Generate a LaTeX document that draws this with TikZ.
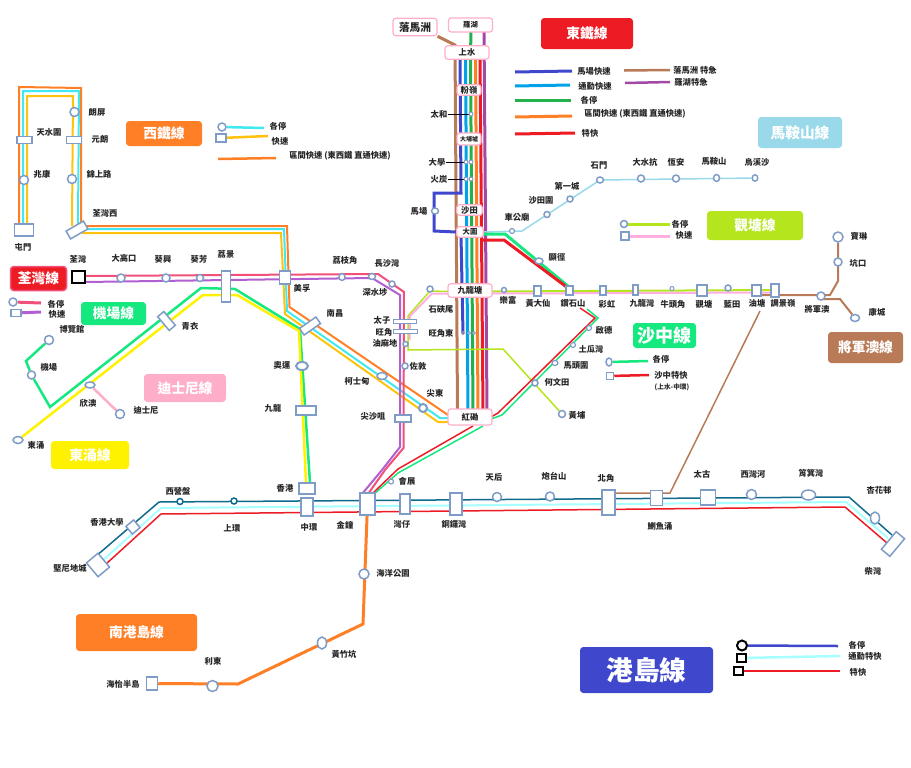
\documentclass[tikz,border=0pt]{standalone}
\usepackage{fontspec}
\setmainfont{Noto Sans CJK TC}
\usetikzlibrary{shapes.geometric}
\pgfdeclarelayer{bg}
\pgfsetlayers{bg,main}
\definecolor{cbrown}{HTML}{B97A57}
\definecolor{cblue}{HTML}{3F48CC}
\definecolor{csky}{HTML}{00A2E8}
\definecolor{cgreen}{HTML}{22B14C}
\definecolor{corange}{HTML}{FF7F27}
\definecolor{cred}{HTML}{ED1C24}
\definecolor{cpurple}{HTML}{A349A4}
\definecolor{cteal}{HTML}{0F6A8C}
\definecolor{cpale}{HTML}{A8FFFF}
\definecolor{cwcyan}{HTML}{40E8F0}
\definecolor{cwyel}{HTML}{FFC20E}
\definecolor{cpink}{HTML}{F0507A}
\definecolor{cvio}{HTML}{B060D0}
\definecolor{clime}{HTML}{B5E61D}
\definecolor{ckpink}{HTML}{FFAEE0}
\definecolor{csg}{HTML}{14E87F}
\definecolor{cmos}{HTML}{99D9EA}
\definecolor{cstn}{HTML}{7F9CC7}
\definecolor{cdis}{HTML}{FFAEC9}
\tikzset{
  px/.style={line width=#1*0.75pt},
  rt/.style={line join=miter,px=#1},
  stbase/.style={draw=cstn,fill=white,inner sep=0pt,px=1.5},
  lbl/.style={inner sep=0pt,font=\fontsize{6.2}{7}\selectfont\bfseries,text=black!85},
  ebox/.style={draw=cdis,fill=white,rounded corners=2pt,inner sep=0pt,px=1.2,font=\fontsize{6.2}{7}\selectfont\bfseries,text=black!85},
  ttl/.style={rounded corners=2.5pt,inner sep=0pt,text=white,font=\bfseries},
}
\newcommand\Stc[5][]{\node[stbase,ellipse,minimum width=#5*0.75pt,minimum height=#5*0.75pt,#1] (#2) at (#3,#4) {};}
\newcommand\Ste[6][]{\node[stbase,ellipse,minimum width=#5*0.75pt,minimum height=#6*0.75pt,#1] (#2) at (#3,#4) {};}
\newcommand\Str[6][]{\node[stbase,rectangle,minimum width=#5*0.75pt,minimum height=#6*0.75pt,#1] (#2) at (#3,#4) {};}
\newcommand\Lbl[4]{\node[lbl] (l#1) at (#2,#3) {#4};}
\newcommand\Ttl[8]{\node[ttl,fill=#6,minimum width=(#4-#2)*0.75pt,minimum height=(#5-#3)*0.75pt] (#1) at ({(#2+#4)/2},{(#3+#5)/2}) {\fontsize{#7}{#7}\selectfont #8};}
\begin{document}
\begin{tikzpicture}[x=0.75pt,y=-0.75pt]
\useasboundingbox (0,0) rectangle (911,768);
% ---------- title boxes
\Ttl{tE}{541}{18}{633}{49}{cred}{10.3}{東鐵線}
\Ttl{tW}{126}{121}{202}{146}{corange}{10.3}{西鐵線}
\Ttl{tM}{758}{117}{842}{148}{cmos}{11}{馬鞍山線}
\Ttl{tK}{707}{211}{803}{240}{clime}{10.3}{觀塘線}
\node[ttl,fill=cred,draw=cpink,px=1.5,minimum width=42pt,minimum height=18pt] (tT) at (38.5,278.5) {\fontsize{10.3}{10.3}\selectfont 荃灣線};
\Ttl{tA}{81}{302}{146}{325}{csg}{10.3}{機場線}
\Ttl{tD}{144}{374}{226}{402}{cdis}{10.3}{迪士尼線}
\Ttl{tY}{51}{441}{129}{469}{yellow}{10.3}{東涌線}
\Ttl{tS}{633}{323}{696}{348}{csg}{13.5}{沙中線}
\Ttl{tJ}{828}{332}{903}{363}{cbrown}{10.3}{將軍澳線}
\Ttl{tP}{76}{614}{197}{651}{corange}{10.3}{南港島線}
\Ttl{tI}{580}{647}{713}{693}{cblue}{20}{港島線}
% ---------- East Rail stations
\node[ebox,minimum width=33pt,minimum height=10.5pt] (LW) at (470.5,25) {\fontsize{5.5}{6}\selectfont 羅湖};
\node[ebox,minimum width=33pt,minimum height=13pt,font=\fontsize{8}{9}\selectfont\bfseries] (LMC) at (415,27) {落馬洲};
\node[ebox,minimum width=33pt,minimum height=10pt] (SS) at (467,52.5) {上水};
\node[ebox,minimum width=18pt,minimum height=8pt] (FL) at (469,90) {粉嶺};
\node[ebox,minimum width=18pt,minimum height=9pt,font=\fontsize{4.5}{5}\selectfont\bfseries] (TP) at (469,139) {大埔墟};
\node[ebox,minimum width=19pt,minimum height=8pt] (ST) at (469.5,210) {沙田};
\node[ebox,minimum width=20pt,minimum height=8pt,font=\fontsize{5.5}{6}\selectfont\bfseries] (TW) at (470,232) {大圍};
\node[ebox,minimum width=33pt,minimum height=10pt] (KT) at (470,290.5) {九龍塘};
\node[ebox,minimum width=33pt,minimum height=12pt] (HH) at (470,417) {紅磡};
\Stc[px=1]{TWO}{471}{114}{4}
\Stc[px=1]{UNIa}{466}{162}{4}
\Stc[px=1]{UNIb}{471}{162}{4}
\Stc[px=1]{FOa}{466}{179}{4}
\Stc[px=1]{FOb}{471}{179}{4}
\Ste{RC}{435}{211}{7}{6}
\Stc[px=1,fill=cred]{MKEa}{463}{333}{3}
\Stc[px=1]{MKEb}{469}{333}{3}
\Stc[px=1]{MKEc}{474}{333}{3}
\Lbl{TWO}{439}{114}{太和}
\Lbl{UNI}{437}{162}{大學}
\Lbl{FO}{439}{179}{火炭}
\Lbl{RC}{419}{211}{馬場}
% ---------- West Rail stations
\Str{TM}{24}{230}{19}{12}
\Str{TSW}{24.5}{140}{15}{7}
\Str{YL}{74}{140}{15}{7}
\Stc{LP}{74.5}{112}{9}
\Stc{SK}{24}{180}{9}
\Stc{KSR}{72}{179}{9}
\Str[rotate=30]{TWW}{77}{230}{20}{9}
\Str[rotate=35]{NC}{310}{326}{20}{8}
\Ste{AUS}{382}{376}{10}{7}
\Stc[px=2]{ETS}{423}{408}{8}
\Lbl{LP}{97}{112}{朗屏}
\Lbl{TSW}{49}{132}{天水圍}
\Lbl{YL}{100}{139}{元朗}
\Lbl{SK}{42}{174}{兆康}
\Lbl{KSR}{99}{174}{錦上路}
\Lbl{TWW}{105}{213}{荃灣西}
\Lbl{TM}{23}{247}{屯門}
\Lbl{NC}{335}{313}{南昌}
\Lbl{AUS}{357}{381}{柯士甸}
\Lbl{ETS}{435}{393}{尖東}
% ---------- Tsuen Wan stations
\Str[draw=black,px=1.5]{TSWN}{78.5}{277}{13}{12}
\Stc{TKK}{121}{278}{8}
\Stc{KH}{166}{278}{8}
\Stc{KF}{200}{278}{7}
\Str{LCK}{226}{286.5}{9}{31}
\Str{MF}{285}{277.5}{11}{13}
\Ste{LCH}{342}{277}{6}{7}
\Ste{CSW}{372}{276.5}{7}{6}
\Stc{SSP}{392}{284}{6}
\Str[px=1]{PE}{404.5}{321}{23}{4}
\Str[px=1]{MK}{405}{331.5}{24}{4}
\Stc{YMT}{405.5}{344}{5}
\Stc{JOR}{405}{366}{6}
\Str{TST}{403}{418.5}{16}{7}
\Lbl{TSWN}{78}{259}{荃灣}
\Lbl{TKK}{124}{258}{大高口}
\Lbl{KH}{163}{259}{葵興}
\Lbl{KF}{199}{259}{葵芳}
\Lbl{LCK}{226}{254}{荔景}
\Lbl{MF}{302}{288}{美孚}
\Lbl{LCH}{345}{260}{荔枝角}
\Lbl{CSW}{387}{263}{長沙灣}
\Lbl{SSP}{375}{292}{深水埗}
\Lbl{PE}{382}{320}{太子}
\Lbl{MK}{384}{332}{旺角}
\Lbl{YMT}{385}{343}{油麻地}
\Lbl{JOR}{418}{366}{佐敦}
\Lbl{TST}{373}{416}{尖沙咀}
\Lbl{SKM}{441}{309}{石硤尾}
\Lbl{MKE}{441}{333}{旺角東}
% ---------- Airport / Tung Chung / Disney
\Stc{AWE}{49}{340}{9}
\Stc{AP}{31.5}{375}{8}
\Str[rotate=40]{TY}{166.5}{321}{8}{18}
\Ste{SUN}{90}{385}{10}{6}
\Stc{DIS}{120}{414}{9}
\Ste{TC}{18}{440}{10}{7}
\Ste[px=2]{OLY}{302}{366}{12}{8}
\Str[px=2]{KOW}{306}{410}{20}{9}
\Str{HKS}{307}{488.5}{16}{11}
\Lbl{AWE}{72}{329}{博覽館}
\Lbl{AP}{49}{367}{機場}
\Lbl{TY}{190}{326}{青衣}
\Lbl{SUN}{88}{403}{欣澳}
\Lbl{DIS}{146}{410}{迪士尼}
\Lbl{TC}{36}{445}{東涌}
\Lbl{OLY}{282}{365}{奧運}
\Lbl{KOW}{273}{408}{九龍}
\Lbl{HKS}{285}{488}{香港}
% ---------- Kwun Tong
\Stc{SKMs}{430}{289}{6}
\Stc{WHA}{562}{414}{7}
\Stc{HOM}{535}{383}{6}
\Stc{LF}{504}{290}{5}
\Str{WTS}{537.5}{291}{7}{10}
\Str{DH}{569.5}{290.5}{7}{9}
\Str{CH}{603}{290.5}{6}{9}
\Str{KB}{635.5}{290}{5}{10}
\Stc[px=1]{NTK}{672}{288.5}{4}
\Str{KWT}{702}{290.5}{10}{11}
\Stc{LAT}{728}{288}{6}
\Str{YT}{756.5}{290.5}{9}{11}
\Str{TIK}{775}{290.5}{8}{13}
\Lbl{LF}{508}{300}{樂富}
\Lbl{WTS}{538}{303}{黃大仙}
\Lbl{DH}{573}{303}{鑽石山}
\Lbl{CH}{607}{304}{彩虹}
\Lbl{KB}{642}{303}{九龍灣}
\Lbl{NTK}{673}{304}{牛頭角}
\Lbl{KWT}{704}{304}{觀塘}
\Lbl{LAT}{732}{304}{藍田}
\Lbl{YT}{757}{303}{油塘}
\Lbl{TIK}{783}{303}{調景嶺}
\Lbl{WHA}{577}{415}{黃埔}
\Lbl{HOM}{557}{382}{何文田}
% ---------- Tseung Kwan O
\Stc{TKO}{821}{296}{8}
\Stc{POA}{838}{237}{10}
\Stc{HAH}{838}{262}{8}
\Ste{LHP}{855}{318}{9}{7}
\Lbl{TKO}{817}{309}{將軍澳}
\Lbl{LHP}{877}{312}{康城}
\Lbl{HAH}{858}{263}{坑口}
\Lbl{POA}{859}{236}{寶琳}
% ---------- Ma On Shan
\Stc[px=1.2]{CKT}{512}{231}{5}
\Stc{STW}{547}{214.5}{6}
\Stc{CIO}{570}{199}{6}
\Ste{SHM}{600}{180}{7}{6}
\Stc{TSH}{641}{178.5}{7}
\Stc{HEO}{676}{178.5}{7}
\Ste{MOS}{716.5}{178}{6}{7}
\Ste{WKS}{755}{178}{5.5}{6.5}
\Lbl{CKT}{517}{217}{車公廟}
\Lbl{STW}{541}{200}{沙田圍}
\Lbl{CIO}{567}{186}{第一城}
\Lbl{SHM}{599}{166}{石門}
\Lbl{TSH}{645}{162}{大水抗}
\Lbl{HEO}{676}{162}{恆安}
\Lbl{MOS}{714}{161}{馬鞍山}
\Lbl{WKS}{757}{162}{烏溪沙}
% ---------- Sha Tin - Central
\Ste{HIK}{539}{261}{8}{6}
\Stc[px=1.2]{KAT}{589}{328}{5}
\Stc[px=1.2]{TKW}{573}{345}{5}
\Ste[px=1.2]{MTW}{555}{363}{6}{5}
\Stc[px=1.2]{EXH}{391}{481.5}{5}
\Lbl{HIK}{557}{257}{顯徑}
\Lbl{KAT}{604}{330}{啟德}
\Lbl{TKW}{591}{349}{土瓜灣}
\Lbl{MTW}{576}{366}{馬頭圍}
\Lbl{EXH}{407}{481}{會展}
% ---------- Island
\Str[rotate=40]{KET}{98}{565}{15}{18}
\Str[rotate=40]{HKU}{133}{527}{10}{10}
\Stc[draw=cteal]{SYP}{180}{501.5}{6}
\Stc[draw=cteal]{SHW}{234}{501}{6}
\Str[px=2]{CEN}{307}{507}{12}{18}
\Str[px=2]{ADM}{367.5}{504}{15}{22}
\Str[px=2]{WAC}{405}{504}{10}{20}
\Str[px=2]{CAB}{455.5}{504}{12}{22}
\Stc{TIH}{497}{497}{9}
\Stc{FOH}{550}{496.5}{9}
\Str[px=2]{NOP}{608.5}{502.5}{13}{25}
\Str{QUB}{656.5}{498}{12}{15}
\Str{TAK}{708}{497.5}{15}{15}
\Stc{SWH}{751.5}{494.5}{10}
\Ste{SKW}{808.5}{495}{14}{10}
\Ste{HFC}{875}{518}{9}{12}
\Str[rotate=50]{CHW}{893}{544}{23}{11}
\Stc{OCP}{364}{574}{10}
\Ste{WCH}{322}{643}{9}{12}
\Stc{LET}{212.5}{686}{11}
\Str{SOH}{152}{683.5}{11}{13}
\Lbl{SYP}{178}{491}{西營盤}
\Lbl{HKU}{107}{522}{香港大學}
\Lbl{KET}{70}{568}{堅尼地城}
\Lbl{SHW}{232}{528}{上環}
\Lbl{CEN}{309}{527}{中環}
\Lbl{ADM}{345}{525}{金鐘}
\Lbl{WAC}{402}{524}{灣仔}
\Lbl{CAB}{454}{524}{銅鑼灣}
\Lbl{TIH}{494}{477}{天后}
\Lbl{FOH}{554}{476}{炮台山}
\Lbl{NOP}{606}{478}{北角}
\Lbl{QUB}{660}{526}{鰂魚涌}
\Lbl{TAK}{702}{474}{太古}
\Lbl{SWH}{753}{474}{西灣河}
\Lbl{SKW}{811}{473}{筲箕灣}
\Lbl{HFC}{879}{490}{杏花邨}
\Lbl{CHW}{873}{571}{柴灣}
\Lbl{OCP}{393}{573}{海洋公園}
\Lbl{WCH}{344}{654}{黃竹坑}
\Lbl{LET}{213}{661}{利東}
\Lbl{SOH}{123}{684}{海怡半島}
% ---------- legends
\Lbl{e1}{594}{71}{馬場快速}
\Lbl{e2}{595}{86}{通勤快速}
\Lbl{e3}{589}{100}{各停}
\Lbl{e4}{635}{114}{區間快速 (東西鐵 直通快速)}
\Lbl{e5}{590}{133}{特快}
\Lbl{e6}{695}{70}{落馬洲 特急}
\Lbl{e7}{691}{82}{羅湖特急}
\Stc{mw1}{222}{127}{8}
\Str{mw2}{221}{138}{10}{8}
\Lbl{w1}{278}{126}{各停}
\Lbl{w2}{280}{141}{快速}
\Lbl{w3}{340}{156}{區間快速 (東西鐵 直通快速)}
\Stc{mt1}{13}{302}{8}
\Str{mt2}{16}{313}{10}{7}
\Lbl{t1}{56}{304}{各停}
\Lbl{t2}{57}{314}{快速}
\Stc{mk1}{624}{224}{7}
\Str{mk2}{625}{236}{8}{8}
\Lbl{k1}{680}{224}{各停}
\Lbl{k2}{684}{235}{快速}
\Ste{ms1}{609}{362}{6}{8}
\Str{ms2}{610}{376}{7}{7}
\Lbl{s1}{661}{359}{各停}
\Lbl{s2}{671}{375}{沙中特快}
\node[lbl,font=\fontsize{5}{6}\selectfont\bfseries] (ls3) at (672,387) {(上水-中環)};
\Stc[draw=black,px=2]{mi1}{742}{645.5}{10}
\Str[draw=black,px=2]{mi2}{741}{658}{9}{8}
\Str[draw=black,px=2]{mi3}{738.5}{671}{9}{8}
\Lbl{i1}{857}{645}{各停}
\Lbl{i2}{865}{656}{通勤特快}
\Lbl{i3}{858}{672}{特快}
% ---------- route bends
\foreach \n/\x/\y in {
 eBr1/455/45, eBr2/455/55, eBr3/457.5/411,
 eBl1/460/55, eBl2/461/193, eBl3/434/193, eBl4/434/231, eBl5/461/235, eBl6/463/333,
 eCy1/465.5/55, eCy2/468/411, eGr1/470.5/55, eGr2/473/411, eOr1/475.5/55, eOr2/478/411,
 eRe1/480/55, eRe2/483/411, ePu1/484/31, ePu2/487/411, eGr0/471/31,
 wO1/19/224, wO2/19/87, wO3/81/88, wO4/81/224, wO5/84/226, wO6/287/226, wO7/289.5/307, wO8/448/415,
 wC1/23/224, wC2/23/91, wC3/79/91, wC4/78/224, wC5/85/229, wC6/284/229, wC7/287/311, wC8/440/418, wC9/449/418,
 wY1/27/224, wY2/27/96, wY3/73/96, wY4/72/226, wY5/82/233, wY6/281/233, wY7/285/314, wY8/438/422, wY9/449/422,
 tP1/85/276, tP2/378/274, tP3/404/292, tP4/403.5/448, tP5/385/470, tP6/368/494,
 tV1/85/282, tV2/372/278, tV3/400/295, tV4/400/447, tV5/382/470, tV6/362/494,
 kL1/448/291.5, kL2/430/291, kL3/408/316, kL4/408/350, kL5/503/349,
 kP1/448/293.5, kP2/432/293.5, kP3/410/316, kP4/409.5/340,
 kL6/492/291.5, kL7/780/290, kP6/492/293.5, kP7/780/292.5,
 tkA/760/295, tkB/830/295, tkC/838/281, tkD/823/299, tkE/840/299,
 bl1/760/311, bl2/670/493, bl3/615/493,
 mo1/484/232, mo2/522/231,
 sG1/483/234, sG2/505/234, sG3/569/287, sG4/587/309, sG5/598/318, sG6/502/415, sG7/491/419, sG8/483/426, sG9/398/473, sG10/373/495,
 sR1/483/240, sR2/504/240, sR3/568/288, sR4/580/308, sR5/595/318, sR6/498/413, sR7/491/417, sR8/473/426, sR9/398/469, sR10/372/494,
 aG1/26/361, aG2/50/407, aG3/201/288, aG4/235/289, aG5/300/329, aG6/310/483,
 aY1/203/295, aY2/237/295, aY3/299/331, aY4/306/483,
 hT1/95/557, hT2/159/502, hT3/849/497, hT4/892/535,
 hC1/102/561, hC2/161/508, hC3/846/502, hC4/888/538,
 hR1/106/564, hR2/161/514, hR3/845/507, hR4/887/543,
 soA/363/624, soB/238/684}{\coordinate (\n) at (\x,\y);}
% legend line ends
\foreach \n/\x/\y in {
 a1/515/72, a2/572/71, b1/515/86, b2/570/85, c1/515/100, c2/571/100, d1/515/117, d2/572/116, f1/515/134, f2/575/133,
 g1/624/70.5, g2/670/70, h1/625/83, h2/670/82,
 w1e/264/128, w2e/268/136, w3s/218/159, w3e/276/158,
 t1e/41/303, t2e/41/312, k1e/670/224, k2e/670/236, s1e/648/361, s2e/649/375,
 i1e/838/646, i2e/840/656, i3e/840/671}{\coordinate (q\n) at (\x,\y);}
\begin{pgfonlayer}{bg}
% East Rail
\draw[cgreen,rt=3] (eGr0) -- (eGr1) -- (eGr2);
\draw[csky,rt=3] (eCy1) -- (eCy2);
\draw[corange,rt=3] (eOr1) -- (eOr2);
\draw[cred,rt=3] (eRe1) -- (eRe2);
\draw[cpurple,rt=3] (ePu1) -- (ePu2);
\draw[cbrown,rt=3] (LMC.south east) -- (eBr1) -- (eBr3);
\draw[cblue,rt=3] (eBl1) -- (eBl2) -- (eBl3) -- (eBl4) -- (TW.west);
\draw[cblue,rt=3] (eBl5) -- (eBl6);
\draw[black,px=1] (lTWO) -- (TWO);
\draw[black,px=1] (lUNI) -- (UNIa);
\draw[black,px=1] (lFO) -- (FOa);
% West Rail
\draw[corange,rt=2] (wO1) -- (wO2) -- (wO3) -- (wO4);
\draw[corange,rt=2] (wO5) -- (wO6) -- (wO7) -- (wO8);
\draw[cwcyan,rt=2] (wC1) -- (wC2) -- (wC3) -- (wC4);
\draw[cwcyan,rt=2] (wC5) -- (wC6) -- (wC7) -- (wC8) -- (wC9);
\draw[cwyel,rt=2] (wY1) -- (wY2) -- (wY3) -- (wY4);
\draw[cwyel,rt=2] (wY5) -- (wY6) -- (wY7) -- (wY8) -- (wY9);
% Tsuen Wan
\draw[cvio,rt=2] (tV1) -- (tV2) -- (tV3) -- (tV4) -- (tV5) -- (tV6);
\draw[cpink,rt=2] (tP1) -- (tP2) -- (tP3) -- (tP4) -- (tP5) -- (tP6);
% Airport / Tung Chung / Disney
\draw[csg,rt=2.5] (AWE) -- (aG1) -- (AP);
\draw[csg,rt=2.5] (AP) -- (aG2) -- (aG3) -- (aG4) -- (aG5) -- (aG6);
\draw[yellow,rt=2.5] (TC) -- (aY1) -- (aY2) -- (aY3) -- (aY4);
\draw[cdis,rt=2.5] (SUN) -- (DIS);
% Kwun Tong
\draw[clime,rt=2] (kL6) -- (kL7);
\draw[ckpink,rt=2] (kP6) -- (kP7);
\draw[clime,rt=1.5] (kL1) -- (kL2) -- (kL3) -- (kL4) -- (kL5) -- (WHA);
\draw[ckpink,rt=2] (kP1) -- (kP2) -- (kP3) -- (kP4);
% Tseung Kwan O
\draw[cbrown,rt=2] (tkA) -- (tkB) -- (tkC) -- (POA);
\draw[cbrown,rt=2] (TKO) -- (tkD) -- (tkE) -- (LHP);
\draw[cbrown,rt=1.5] (bl1) -- (bl2) -- (bl3);
% Ma On Shan
\draw[cmos,rt=1.5] (mo1) -- (mo2) -- (SHM.center) -- (WKS);
% Sha Tin - Central
\draw[csg,rt=3] (sG1) -- (sG2) -- (sG3);
\draw[cred,rt=3] (sR1) -- (sR2) -- (sR3);
\draw[csg,rt=1.5] (sG4) -- (sG5) -- (sG6) -- (sG7);
\draw[cred,rt=1.5] (sR4) -- (sR5) -- (sR6) -- (sR7);
\draw[csg,rt=1.5] (sG8) -- (sG9) -- (sG10);
\draw[cred,rt=1.5] (sR8) -- (sR9) -- (sR10);
% Island
\draw[cpale,rt=2] (hC1) -- (hC2) -- (hC3) -- (hC4);
\draw[cteal,rt=1.5] (hT1) -- (hT2) -- (hT3) -- (hT4);
\draw[cred,rt=1.5] (hR1) -- (hR2) -- (hR3) -- (hR4);
% South Island
\draw[corange,rt=3] (ADM) -- (soA) -- (soB) -- (SOH);
% legends
\draw[cblue,rt=3] (qa1) -- (qa2);
\draw[csky,rt=3] (qb1) -- (qb2);
\draw[cgreen,rt=3] (qc1) -- (qc2);
\draw[corange,rt=3] (qd1) -- (qd2);
\draw[cred,rt=3] (qf1) -- (qf2);
\draw[cbrown,rt=2.5] (qg1) -- (qg2);
\draw[cpurple,rt=2.5] (qh1) -- (qh2);
\draw[cwcyan,rt=2.5] (mw1) -- (qw1e);
\draw[cwyel,rt=2.5] (mw2) -- (qw2e);
\draw[corange,rt=2.5] (qw3s) -- (qw3e);
\draw[cpink,rt=3] (mt1) -- (qt1e);
\draw[cvio,rt=3] (mt2) -- (qt2e);
\draw[clime,rt=3] (mk1) -- (qk1e);
\draw[ckpink,rt=3] (mk2) -- (qk2e);
\draw[csg,rt=2.5] (ms1) -- (qs1e);
\draw[cred,rt=2.5] (ms2) -- (qs2e);
\draw[cblue,rt=2.5] (mi1) -- (qi1e);
\draw[cpale,rt=2.5] (mi2) -- (qi2e);
\draw[cred,rt=2] (mi3) -- (qi3e);
\end{pgfonlayer}
\end{tikzpicture}
\end{document}
